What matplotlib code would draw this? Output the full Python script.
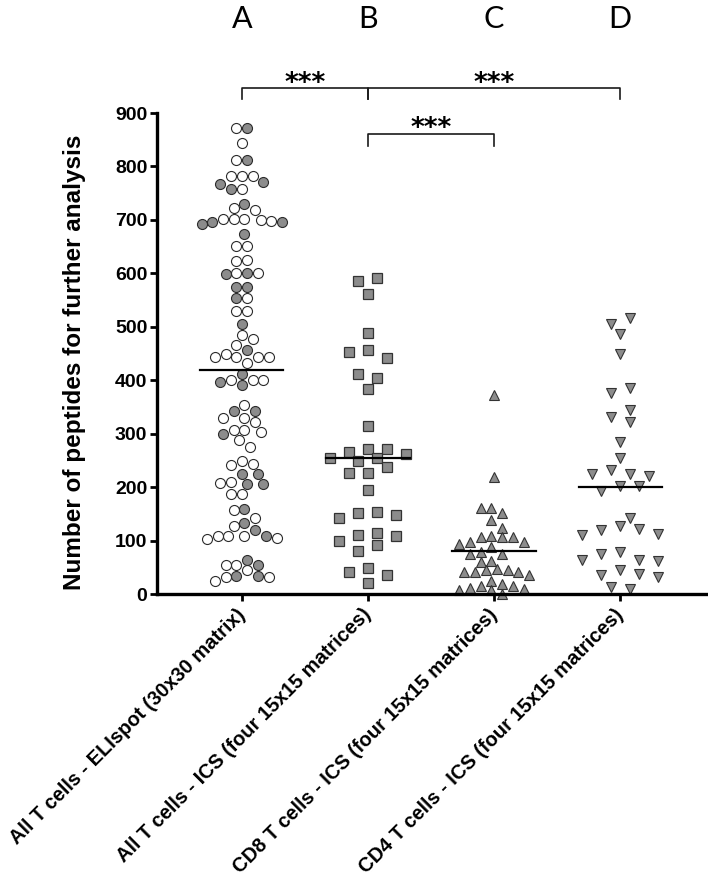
import numpy as np
import matplotlib.pyplot as plt
from matplotlib.transforms import ScaledTranslation

plt.rcParams['font.family'] = ['Liberation Sans', 'DejaVu Sans']

categories = ['All T cells - ELIspot (30x30 matrix)',
              'All T cells - ICS (four 15x15 matrices)',
              'CD8 T cells - ICS (four 15x15 matrices)',
              'CD4 T cells - ICS (four 15x15 matrices)']
group_letters = ['A', 'B', 'C', 'D']

# A: 30x30 ELIspot, open / grey-filled circles
a_values = [872, 872, 843, 813, 813, 783, 783, 783, 771, 767, 758, 758, 730, 722, 718,
            701, 698, 699, 693, 696, 696, 702, 702, 674, 652, 652, 623, 625,
            601, 599, 601, 601, 575, 575, 553, 553, 529, 529, 505, 485, 477, 466, 456,
            450, 443, 443, 443, 443, 433, 412, 400, 400, 400, 396, 392, 354, 342, 342,
            330, 330, 322, 307, 304, 300, 307, 288, 275, 249, 241, 243, 224, 224,
            208, 206, 210, 205, 187, 187, 157, 160, 143, 133, 127, 120,
            109, 109, 109, 109, 102, 105, 64, 55, 55, 55, 44, 32, 32, 34, 34, 25]
a_filled = [1, 0, 0, 0, 1, 0, 0, 0, 1, 1, 0, 1, 1, 0, 0,
            0, 0, 0, 1, 1, 1, 0, 0, 1, 0, 0, 0, 0,
            1, 1, 0, 0, 1, 1, 0, 1, 0, 0, 1, 0, 0, 0, 1,
            0, 0, 0, 0, 0, 0, 1, 0, 0, 0, 1, 1, 0, 1, 1,
            0, 0, 0, 0, 0, 1, 0, 0, 0, 0, 0, 0, 1, 1,
            0, 1, 0, 1, 0, 0, 0, 1, 0, 1, 0, 1,
            0, 0, 1, 0, 0, 0, 1, 0, 1, 0, 0, 0, 0, 1, 1, 0]
b_values = [591, 586, 561, 489, 452, 456, 442, 412, 405, 383, 315,
            272, 271, 266, 262, 254, 254, 248, 237, 227, 227, 195,
            153, 152, 147, 142, 114, 110, 108, 100, 91, 80, 48, 41, 35, 20]
c_values = [373, 219, 161, 161, 152, 138, 124, 109, 107, 107, 107, 97, 97, 94, 88,
            78, 75, 75, 62, 60, 47, 44, 44, 41, 41, 41, 35, 25,
            19, 15, 15, 12, 10, 8, 8, 0.5]
d_values = [516, 505, 486, 449, 385, 377, 344, 332, 322, 285, 255,
            232, 225, 225, 221, 202, 202, 193, 143, 127, 122, 120, 112, 110,
            78, 75, 64, 64, 62, 45, 38, 35, 32, 13, 9]

fig = plt.figure(figsize=(7.08, 8.85), dpi=100)
ax = fig.add_axes([0.2218, 0.3288, 0.7754, 0.5435])
ax.set_xlim(-0.672, 3.68)
ax.set_ylim(0, 900)


def swarm_offsets(values, step_px, h_px):
    # greedy beeswarm on half-step slots, then centre each vertical cluster
    values = np.asarray(values, dtype=float)
    ys = ax.transData.transform(np.column_stack([np.zeros(len(values)), values]))[:, 1]
    slots = np.zeros(len(values))
    done = []
    flip = 1
    for i in np.argsort(-values, kind='stable'):
        k = 0
        found = None
        while found is None:
            cands = [0.0] if k == 0 else [flip * k * 0.5, -flip * k * 0.5]
            for c in cands:
                if all((c - slots[j]) ** 2 + ((ys[i] - ys[j]) / h_px) ** 2 >= 0.98 for j in done):
                    found = c
                    break
            k += 1
        slots[i] = found
        done.append(i)
        flip = -flip
    order = np.argsort(ys)
    groups, cur = [], [order[0]]
    for p, q in zip(order[:-1], order[1:]):
        if ys[q] - ys[p] < h_px:
            cur.append(q)
        else:
            groups.append(cur)
            cur = [q]
    groups.append(cur)
    for g in groups:
        s = slots[g]
        slots[g] = s - (s.max() + s.min()) / 2
    unit_px = ax.transData.transform([(1, 0)])[0, 0] - ax.transData.transform([(0, 0)])[0, 0]
    return slots * step_px / unit_px


grey = '#8c8c8c'
edge = '#2b2b2b'

# A
xa = 0 + swarm_offsets(a_values, 10.7, 10.7)
a_arr = np.array(a_values)
fill = np.array(a_filled) == 1
ax.plot(xa[~fill], a_arr[~fill], 'o', ms=7.2, mfc='white', mec=edge, mew=0.8, ls='none', clip_on=False)
ax.plot(xa[fill], a_arr[fill], 'o', ms=7.2, mfc=grey, mec=edge, mew=0.8, ls='none', clip_on=False)

# B
xb = 1 + swarm_offsets(b_values, 19, 10.5)
ax.plot(xb, b_values, 's', ms=6.6, mfc=grey, mec='#333333', mew=0.9, ls='none', clip_on=False)

# C
xc = 2 + swarm_offsets(c_values, 10.8, 9)
ax.plot(xc, c_values, '^', ms=7.8, mfc=grey, mec='#333333', mew=0.8, ls='none', clip_on=False)

# D
xd = 3 + swarm_offsets(d_values, 19, 10)
ax.plot(xd, d_values, 'v', ms=7.8, mfc=grey, mec='#333333', mew=0.8, ls='none', clip_on=False)

# mean lines
for i, vals in enumerate([a_values, b_values, c_values, d_values]):
    ax.plot([i - 0.33, i + 0.33], [np.mean(vals)] * 2, color='black', lw=1.6, zorder=5)

# significance brackets
bk = dict(color='#1a1a1a', lw=1.2, clip_on=False)
ax.plot([0, 0, 1, 1], [927, 946, 946, 927], **bk)
ax.plot([1, 1, 3, 3], [927, 946, 946, 927], **bk)
ax.plot([1, 1, 2, 2], [839, 860, 860, 839], **bk)
star = dict(ha='center', va='baseline', fontsize=19, fontweight='bold', family='DejaVu Sans')
ax.text(0.5, 942, '***', **star)
ax.text(2.0, 942, '***', **star)
ax.text(1.5, 857, '***', **star)

for i, letter in enumerate(group_letters):
    ax.text(i, 1060, letter, ha='center', va='baseline', fontsize=22, family='Lato')

ax.spines['top'].set_visible(False)
ax.spines['right'].set_visible(False)
ax.spines['left'].set_linewidth(2.4)
ax.spines['bottom'].set_linewidth(2.4)
ax.set_yticks(range(0, 901, 100))
ax.tick_params(axis='y', length=5, width=2, labelsize=14, pad=2)
ax.tick_params(axis='x', length=5, width=2, labelsize=14.4, pad=3)
for t in ax.get_yticklabels():
    t.set_fontweight('bold')
ax.set_xticks(range(4))
ax.set_xticklabels(categories, rotation=45, ha='right', fontweight='bold')
shift = ScaledTranslation(7 / 100, 0, fig.dpi_scale_trans)
for t in ax.get_xticklabels():
    t.set_transform(t.get_transform() + shift)
ax.set_ylabel('Number of peptides for further analysis', fontsize=17.5, fontweight='bold')
ax.yaxis.set_label_coords(-0.129, 0.482)

fig.savefig('out.png', dpi=100)
